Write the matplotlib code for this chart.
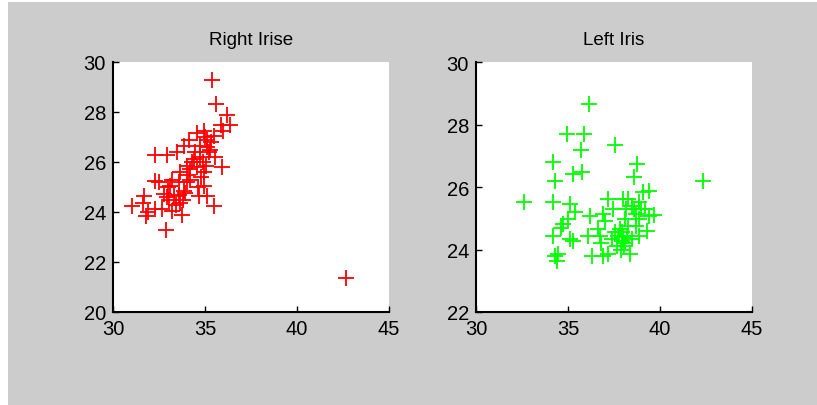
import matplotlib
matplotlib.use('Agg')
from matplotlib import pyplot as plt
from matplotlib.patches import Rectangle

# iris centre coordinates, right eye
right_x = [35.40, 35.62, 36.20, 36.38, 35.87, 35.98, 42.68, 31.05, 31.67, 31.63,
           31.81, 32.30, 32.30, 32.93, 32.30, 32.90, 32.75, 33.10, 33.20, 33.75,
           33.66, 33.48, 33.84, 34.02, 34.11, 34.56, 34.93, 35.10, 34.75, 35.29,
           35.56, 35.47, 34.93, 35.05, 34.65, 35.10, 35.47, 35.92, 34.93, 34.20,
           33.57, 33.84, 32.93, 32.66, 33.93, 34.20, 34.38, 34.47, 33.66, 33.30,
           33.03, 34.02, 34.56, 34.75, 35.20, 33.40, 33.00, 34.80, 35.00, 34.30,
           33.20, 34.60, 35.30, 32.50, 33.60, 34.10, 34.90, 35.10, 31.90, 33.80]
right_y = [29.30, 28.33, 27.90, 27.49, 27.49, 27.26, 21.35, 24.25, 24.65, 24.38,
           23.86, 24.10, 26.26, 26.26, 25.25, 23.30, 24.72, 25.05, 24.05, 23.90,
           24.37, 26.40, 26.66, 25.85, 26.90, 27.17, 27.26, 26.90, 26.66, 26.50,
           26.20, 27.06, 25.60, 25.85, 24.65, 24.65, 24.25, 25.80, 25.05, 25.30,
           25.20, 24.85, 24.60, 24.10, 24.78, 25.72, 26.12, 26.40, 25.60, 24.65,
           24.50, 25.20, 25.80, 26.20, 26.40, 24.30, 25.00, 25.40, 27.00, 26.00,
           25.30, 25.00, 26.80, 25.20, 24.70, 25.50, 26.00, 26.60, 24.00, 24.50]

# iris centre coordinates, left eye
left_x = [36.14, 34.93, 35.87, 35.69, 37.55, 34.20, 34.29, 35.29, 35.74, 38.73,
          38.59, 42.32, 32.61, 34.20, 35.10, 35.38, 35.02, 34.75, 34.60, 34.20,
          35.10, 35.29, 34.29, 34.47, 34.38, 36.20, 36.10, 36.29, 36.92, 37.19,
          36.65, 36.74, 36.92, 37.19, 37.46, 38.00, 38.26, 38.17, 38.60, 38.87,
          39.06, 39.42, 39.42, 39.70, 38.87, 38.70, 39.27, 38.87, 38.37, 37.64,
          37.83, 37.92, 38.00, 38.10, 38.19, 37.74, 37.92, 38.28, 38.10, 38.46,
          37.55, 37.37, 38.50, 38.70, 38.96, 37.00, 36.80, 39.20, 38.05, 37.90]
left_y = [28.66, 27.70, 27.70, 27.17, 27.35, 26.79, 26.20, 26.42, 26.47, 26.74,
          26.31, 26.20, 25.53, 25.51, 25.46, 25.19, 24.97, 24.81, 24.70, 24.44,
          24.33, 24.28, 23.80, 23.85, 23.64, 25.08, 24.44, 23.80, 23.80, 23.85,
          24.65, 24.44, 25.13, 25.61, 25.29, 25.61, 25.61, 25.29, 25.29, 25.51,
          25.83, 25.88, 25.08, 25.10, 24.97, 24.76, 24.60, 24.44, 23.85, 24.12,
          24.65, 24.55, 24.39, 24.22, 24.44, 24.44, 24.28, 24.76, 24.97, 24.33,
          24.55, 24.33, 25.40, 25.13, 25.29, 24.90, 24.20, 25.30, 24.10, 24.00]

x_ticks = [30, 35, 40, 45]
right_yticks = [20, 22, 24, 26, 28, 30]
left_yticks = [22, 24, 26, 28, 30]

plt.rcParams['font.family'] = ['Liberation Sans', 'DejaVu Sans']

fig = plt.figure(figsize=(8.17, 4.06), dpi=100)
fig.patch.set_facecolor('#cccccc')
# thin white margin on the left and top edges
fig.patches.append(Rectangle((0, 0), 8 / 817, 1, transform=fig.transFigure,
                             facecolor='white', edgecolor='none'))
fig.patches.append(Rectangle((0, 1 - 3 / 406), 1, 3 / 406, transform=fig.transFigure,
                             facecolor='white', edgecolor='none'))


def panel(rect, xs, ys, color, title, yticks):
	ax = fig.add_axes(rect)
	ax.plot(xs, ys, '+', color=color, markersize=11, markeredgewidth=1.3)
	ax.set_xlim(30, 45)
	ax.set_ylim(yticks[0], yticks[-1])
	ax.set_xticks(x_ticks)
	ax.set_yticks(yticks)
	ax.spines['top'].set_visible(False)
	ax.spines['right'].set_visible(False)
	ax.spines['left'].set_linewidth(1.5)
	ax.spines['bottom'].set_linewidth(1.5)
	ax.tick_params(direction='in', length=4, width=1, labelsize=14.5, pad=5)
	ax.set_title(title, fontsize=13.5, pad=13)
	return ax


panel([113 / 817, 93 / 406, 276 / 817, 250 / 406], right_x, right_y,
      '#ff0000', 'Right Irise', right_yticks)
panel([476 / 817, 93 / 406, 276 / 817, 250 / 406], left_x, left_y,
      '#00ff00', 'Left Iris', left_yticks)

fig.savefig('out.png', dpi=100, facecolor=fig.get_facecolor())
